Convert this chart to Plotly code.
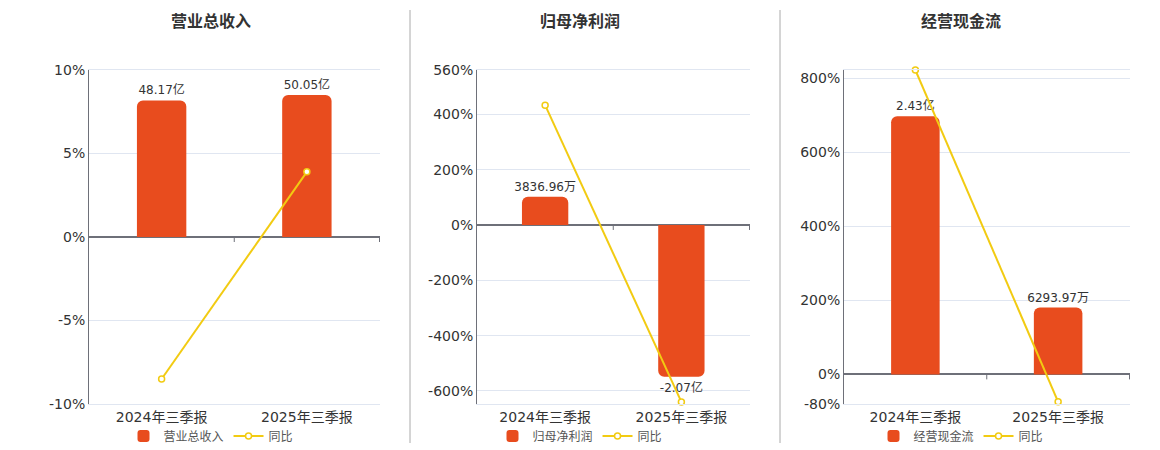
import plotly.graph_objects as go

FONT = "DejaVu Sans, Noto Sans CJK SC, sans-serif"
BAR_COLOR = "#e84c1e"
LINE_COLOR = "#f2cb12"
GRID = "#e0e6f1"
AXIS = "#6e7079"

periods = ["2024年三季报", "2025年三季报"]

titles = ["营业总收入", "归母净利润", "经营现金流"]

# bar values in 亿
revenue = [48.17, 50.05]
revenue_text = ["48.17亿", "50.05亿"]
revenue_yoy = [-8.5, 3.9]

profit = [0.383696, -2.07]
profit_text = ["3836.96万", "-2.07亿"]
profit_yoy = [433, -639.5]

cashflow = [2.43, 0.629397]
cashflow_text = ["2.43亿", "6293.97万"]
cashflow_yoy = [822, -74.1]

# visible percentage axis ranges and ticks
pct_ranges = [(-10, 10), (-647, 560), (-80, 822)]
pct_ticks = [[-10, -5, 0, 5, 10], [-600, -400, -200, 0, 200, 400, 560], [-80, 0, 200, 400, 600, 800]]
# bar axis scale (亿 per 1%)
bar_scale = [50.05 / 8.5, 2.07 / 548.7, 2.43 / 697]

W, H = 1160, 450
OFF = 8  # page body margin
x_domains = [(89, 380), (477, 750), (844, 1130)]
y_domain = [(H - 404 + OFF) / H, (H - 70 + OFF) / H]
centers = [211, 580, 961]

panels = [
    (revenue, revenue_text, revenue_yoy),
    (profit, profit_text, profit_yoy),
    (cashflow, cashflow_text, cashflow_yoy),
]

fig = go.Figure()
layout = {}
annotations = []
shapes = []

for i, (bars, texts, yoy) in enumerate(panels):
    n = i + 1
    xid = "" if n == 1 else str(n)
    ybase = 2 * i + 1
    ypct = ybase + 1
    yb = "" if ybase == 1 else str(ybase)
    lo, hi = pct_ranges[i]
    k = bar_scale[i]
    dom = [(x_domains[i][0] - OFF) / W, (x_domains[i][1] - OFF) / W]
    leg = "legend" if n == 1 else f"legend{n}"

    fig.add_trace(go.Bar(
        x=periods, y=bars, name=titles[i], xaxis=f"x{xid}", yaxis=f"y{yb}",
        marker=dict(color=BAR_COLOR, cornerradius=6, line=dict(width=0)), width=0.34,
        text=texts, textposition="outside", cliponaxis=False, constraintext="none",
        textfont=dict(size=12, color="#333333", family=FONT),
        legend=leg, hoverinfo="skip",
    ))
    fig.add_trace(go.Scatter(
        x=periods, y=yoy, name="同比", mode="lines+markers", xaxis=f"x{xid}", yaxis=f"y{ypct}",
        line=dict(color=LINE_COLOR, width=2),
        marker=dict(symbol="circle", size=6, color="white", line=dict(color=LINE_COLOR, width=1.5)),
        cliponaxis=False, legend=leg, hoverinfo="skip",
    ))

    layout[f"xaxis{xid}"] = dict(
        domain=dom, anchor=f"y{yb}", type="category",
        showgrid=False, zeroline=False,
        showline=True, linecolor=GRID, mirror=True, ticks="",
        tickfont=dict(size=14, color="#333333", family=FONT),
    )
    layout[f"yaxis{yb}"] = dict(
        domain=y_domain, anchor=f"x{xid}", range=[lo * k, hi * k],
        showticklabels=False, showgrid=False, zeroline=False, showline=False, ticks="",
    )
    layout[f"yaxis{ypct}"] = dict(
        domain=y_domain, overlaying=f"y{yb}", anchor=f"x{xid}", side="left", range=[lo, hi],
        tickvals=pct_ticks[i], ticktext=[f"{v}%" for v in pct_ticks[i]],
        showgrid=True, gridcolor=GRID, zeroline=True, zerolinecolor=AXIS, zerolinewidth=1.5,
        showline=True, linecolor=AXIS, ticks="",
        tickfont=dict(size=14, color="#333333", family=FONT),
    )
    layout[leg] = dict(
        orientation="h", x=(centers[i] - OFF) / W, xanchor="center",
        y=(H - 436 + OFF) / H, yanchor="middle",
        font=dict(size=12, color="#555555", family=FONT), bgcolor="rgba(0,0,0,0)",
    )
    annotations.append(dict(
        text=f"<b>{titles[i]}</b>", x=(centers[i] - OFF) / W, y=(H - 22 + OFF) / H,
        xref="paper", yref="paper", showarrow=False, xanchor="center", yanchor="middle",
        font=dict(size=16, color="#333333", family=FONT),
    ))
    # small category-boundary ticks hanging from the zero line
    for b in range(len(periods)):
        shapes.append(dict(
            type="line", xref=f"x{xid}", yref=f"y{ypct}", x0=b + 0.5, x1=b + 0.5,
            ysizemode="pixel", yanchor=0, y0=0, y1=-5,
            line=dict(color=AXIS, width=1),
        ))

for sx in (410, 780):
    shapes.append(dict(
        type="line", xref="paper", yref="paper", x0=(sx - OFF) / W, x1=(sx - OFF) / W,
        y0=(H - 443 + OFF) / H, y1=(H - 10 + OFF) / H,
        line=dict(color="#aaaaaa", width=1),
    ))

fig.update_layout(
    width=W, height=H, margin=dict(l=0, r=0, t=0, b=0, autoexpand=False),
    paper_bgcolor="white", plot_bgcolor="white",
    font=dict(family=FONT), annotations=annotations, shapes=shapes,
    showlegend=True,
    **layout,
)

fig.write_html("out.html")
